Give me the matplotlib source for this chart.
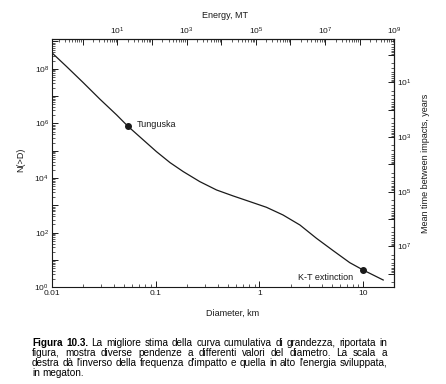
import matplotlib
matplotlib.use("Agg")
import matplotlib.pyplot as plt
from matplotlib.ticker import LogLocator, FuncFormatter, NullFormatter
import numpy as np

plt.rcParams['font.family'] = ['Liberation Sans', 'DejaVu Sans']
plt.rcParams['mathtext.default'] = 'regular'

# cumulative size curve
diameter_km = [0.01, 0.0139, 0.0201, 0.0292, 0.0422, 0.0538, 0.0762, 0.102,
               0.138, 0.185, 0.267, 0.387, 0.560, 0.811, 1.17, 1.69, 2.46,
               3.55, 5.14, 7.43, 9.98, 15.6]
n_greater = [3.93e8, 1.21e8, 3.13e7, 7.67e6, 2.05e6, 8.09e5, 2.49e5, 9.29e4,
             3.67e4, 1.72e4, 7.40e3, 3.66e3, 2.21e3, 1.37e3, 851, 445, 191,
             62.2, 22.0, 7.98, 4.31, 1.85]

event_names = ['Tunguska', 'K-T extinction']
event_d = [0.0538, 9.98]
event_n = [8.09e5, 4.31]

# conversions for the secondary scales
ENERGY_K = 10 ** 5.1      # MT per km^3
TIME_K = 10 ** 8.5        # years * N

caption_lines = [
    [("Figura", True), ("10.3.", True), ("La", False), ("migliore", False),
     ("stima", False), ("della", False), ("curva", False), ("cumulativa", False),
     ("di", False), ("grandezza,", False), ("riportata", False), ("in", False)],
    "figura, mostra diverse pendenze a differenti valori del diametro. La scala a",
    "destra dà l'inverso della frequenza d'impatto e quella in alto l'energia sviluppata,",
    "in megaton.",
]

W, H = 446, 384
fig = plt.figure(figsize=(W / 100, H / 100), dpi=100)
ax = fig.add_axes([51.7 / W, 1 - 287.3 / H, (394.3 - 51.7) / W, (287.3 - 39.3) / H])

ink = '#1a1a1a'
ax.plot(diameter_km, n_greater, color=ink, lw=0.9)
ax.plot(event_d, event_n, 'o', color=ink, ms=4)
ax.set_xscale('log')
ax.set_yscale('log')
ax.set_xlim(0.01, 10 ** 1.3)
ax.set_ylim(1, 10 ** 9.08)

ax.text(0.066, 9.5e5, event_names[0], fontsize=6.5, va='center', color=ink)
ax.text(8.0, 2.2, event_names[1], fontsize=6.5, va='center', ha='right', color=ink)

def odd_fmt(v, p):
    e = int(round(np.log10(v)))
    return f'$10^{{{e}}}$' if e % 2 else ''

def even_fmt(v, p):
    e = int(round(np.log10(v)))
    return f'$10^{{{e}}}$' if e % 2 == 0 else ''

ax.xaxis.set_major_formatter(FuncFormatter(lambda v, p: f'{v:g}'))
ax.xaxis.set_minor_formatter(NullFormatter())
ax.yaxis.set_major_locator(LogLocator(base=10, numticks=20))
ax.yaxis.set_minor_locator(LogLocator(base=10, subs=np.arange(2, 10), numticks=20))
ax.yaxis.set_major_formatter(FuncFormatter(even_fmt))
ax.yaxis.set_minor_formatter(NullFormatter())

ax.tick_params(which='both', direction='in', labelsize=6, colors=ink, pad=2)
ax.tick_params(which='major', length=4, width=0.7)
ax.tick_params(which='minor', length=2, width=0.5)
for s in ax.spines.values():
    s.set_linewidth(0.8)
    s.set_color(ink)

top = ax.secondary_xaxis('top', functions=(lambda d: ENERGY_K * d ** 3,
                                           lambda e: (e / ENERGY_K) ** (1 / 3)))
top.xaxis.set_major_locator(LogLocator(base=10, numticks=20))
top.xaxis.set_minor_locator(LogLocator(base=10, subs=np.arange(2, 10), numticks=20))
top.xaxis.set_major_formatter(FuncFormatter(odd_fmt))
top.xaxis.set_minor_formatter(NullFormatter())

right = ax.secondary_yaxis('right', functions=(lambda n: TIME_K / n,
                                               lambda t: TIME_K / t))
right.yaxis.set_major_locator(LogLocator(base=10, numticks=20))
right.yaxis.set_minor_locator(LogLocator(base=10, subs=np.arange(2, 10), numticks=20))
right.yaxis.set_major_formatter(FuncFormatter(odd_fmt))
right.yaxis.set_minor_formatter(NullFormatter())

for a in [top, right]:
    a.tick_params(which='both', direction='in', labelsize=6, colors=ink, pad=2)
    a.tick_params(which='major', length=4, width=0.7)
    a.tick_params(which='minor', length=2, width=0.5)
    a.spines[:].set_linewidth(0.8)

fig.text(225 / W, 1 - 15 / H, 'Energy, MT', fontsize=6.5, ha='center', va='center', color=ink)
fig.text(233 / W, 1 - 313 / H, 'Diameter, km', fontsize=6.5, ha='center', va='center', color=ink)
fig.text(21 / W, 1 - 160 / H, 'N(>D)', fontsize=6.5, rotation=90, ha='center', va='center', color=ink)
fig.text(425 / W, 1 - 163 / H, 'Mean time between impacts, years', fontsize=6.5,
         rotation=90, ha='center', va='center', color=ink)

# justified caption; font size picked so the longest line fits the block
renderer = fig.canvas.get_renderer()
x0, x1 = 32, 387
probe = fig.text(0, 0, caption_lines[2], fontsize=7.3)
cap_size = 7.3 * (x1 - x0) / probe.get_window_extent(renderer).width
probe.remove()
space_w = fig.text(0, 0, ' ', fontsize=cap_size).get_window_extent(renderer).width
for i, line in enumerate(caption_lines):
    y = 1 - (342.7 + 10.2 * i) / H
    if isinstance(line, str):
        words = [(w, False) for w in line.split()]
    else:
        words = line
    texts = [fig.text(0, y, w, fontsize=cap_size, va='center', color='black',
                      fontweight='bold' if b else 'normal') for w, b in words]
    widths = [t.get_window_extent(renderer).width for t in texts]
    if i < len(caption_lines) - 1:
        gap = (x1 - x0 - sum(widths)) / (len(words) - 1)
    else:
        gap = space_w
    x = x0
    for t, w in zip(texts, widths):
        t.set_x(x / W)
        x += w + gap

fig.savefig('out.png', dpi=100)
